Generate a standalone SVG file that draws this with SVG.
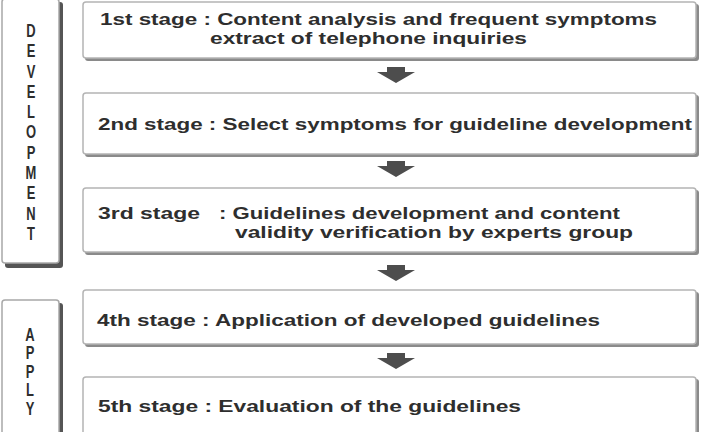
<svg xmlns="http://www.w3.org/2000/svg" width="704" height="432" viewBox="0 0 704 432">
<defs>
<style>
.shadow{fill:#8a8a8a}
.box{fill:#ffffff;stroke:#b4b4b4;stroke-width:1.5}
.sideshadow{fill:#555555}
.side{fill:#ffffff;stroke:#a8a8a8;stroke-width:1.5}
.t{font-family:"Liberation Sans",Arial,sans-serif;font-weight:bold;font-size:17px;fill:#2e2e2e}
.v{font-family:"Liberation Sans",Arial,sans-serif;font-weight:bold;font-size:18px;fill:#2e2e2e;text-anchor:middle}
.arrow{fill:#4d4d4d}
</style>
</defs>
<rect width="704" height="432" fill="#ffffff"/>

<g id="development">
<rect class="sideshadow" x="5" y="2" width="58" height="266" rx="3"/>
<rect class="side" x="2" y="-1" width="57" height="264" rx="3"/>
<g transform="translate(31,0) scale(0.72,1)">
<text class="v" x="0" y="37">D</text>
<text class="v" x="0" y="57.3">E</text>
<text class="v" x="0" y="77.6">V</text>
<text class="v" x="0" y="97.9">E</text>
<text class="v" x="0" y="118.2">L</text>
<text class="v" x="0" y="138.5">O</text>
<text class="v" x="0" y="158.8">P</text>
<text class="v" x="0" y="179.1">M</text>
<text class="v" x="0" y="199.4">E</text>
<text class="v" x="0" y="219.7">N</text>
<text class="v" x="0" y="240">T</text>
</g>
</g>

<g id="apply">
<rect class="sideshadow" x="5" y="303" width="58" height="140" rx="3"/>
<rect class="side" x="2" y="300" width="57" height="140" rx="3"/>
<g transform="translate(30,0) scale(0.72,1)">
<text class="v" x="0" y="341">A</text>
<text class="v" x="0" y="359.5">P</text>
<text class="v" x="0" y="378">P</text>
<text class="v" x="0" y="396.5">L</text>
<text class="v" x="0" y="415">Y</text>
</g>
</g>

<g id="stage1">
<rect class="shadow" x="85" y="4" width="614" height="57" rx="3"/>
<rect class="box" x="83" y="2" width="613" height="56" rx="3"/>
<text class="t" x="100" y="25" textLength="557" lengthAdjust="spacingAndGlyphs">1st stage : Content analysis and frequent symptoms</text>
<text class="t" x="210" y="44" textLength="317" lengthAdjust="spacingAndGlyphs">extract of telephone inquiries</text>
</g>

<g id="stage2">
<rect class="shadow" x="85" y="95" width="614" height="62" rx="3"/>
<rect class="box" x="83" y="93" width="613" height="61" rx="3"/>
<text class="t" x="98" y="130" textLength="594" lengthAdjust="spacingAndGlyphs">2nd stage : Select symptoms for guideline development</text>
</g>

<g id="stage3">
<rect class="shadow" x="85" y="190" width="614" height="65" rx="3"/>
<rect class="box" x="83" y="188" width="613" height="64" rx="3"/>
<text class="t" x="98" y="219" textLength="102" lengthAdjust="spacingAndGlyphs">3rd stage</text>
<text class="t" x="219" y="219" textLength="401" lengthAdjust="spacingAndGlyphs">: Guidelines development and content</text>
<text class="t" x="235" y="238" textLength="398" lengthAdjust="spacingAndGlyphs">validity verification by experts group</text>
</g>

<g id="stage4">
<rect class="shadow" x="85" y="292" width="614" height="55" rx="3"/>
<rect class="box" x="83" y="290" width="613" height="54" rx="3"/>
<text class="t" x="97" y="326" textLength="503" lengthAdjust="spacingAndGlyphs">4th stage : Application of developed guidelines</text>
</g>

<g id="stage5">
<rect class="shadow" x="85" y="379" width="614" height="60" rx="3"/>
<rect class="box" x="83" y="377" width="613" height="60" rx="3"/>
<text class="t" x="98" y="412" textLength="423" lengthAdjust="spacingAndGlyphs">5th stage : Evaluation of the guidelines</text>
</g>

<g id="connectors">
<path class="arrow" d="M387,67 H405 V72 H415 L396,83 L377,72 H387 Z"/>
<path class="arrow" d="M387,161 H405 V166 H415 L396,177 L377,166 H387 Z"/>
<path class="arrow" d="M387,265 H405 V270 H415 L396,281 L377,270 H387 Z"/>
<path class="arrow" d="M387,353 H405 V358 H415 L396,369 L377,358 H387 Z"/>
</g>
</svg>
